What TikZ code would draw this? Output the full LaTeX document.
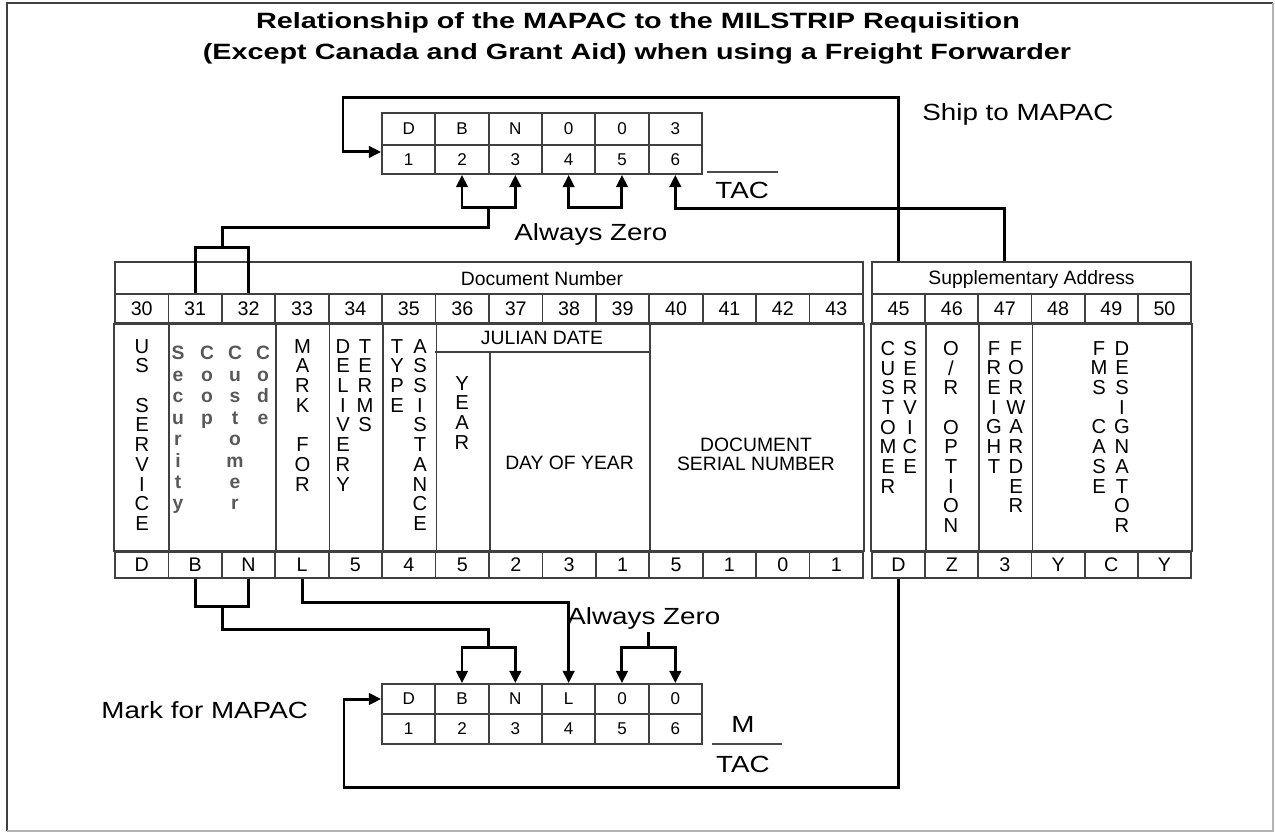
\documentclass[tikz,border=0pt]{standalone}
\usepackage{fontspec}
\setmainfont{Liberation Sans}
\newfontfamily\titlefont[FakeStretch=1.3]{Liberation Sans Bold}
\newfontfamily\labelfont[FakeStretch=1.19]{Liberation Sans}
\usetikzlibrary{arrows.meta}
\definecolor{gridgray}{gray}{0.25}

\begin{document}
\begin{tikzpicture}[x=0.02cm,y=-0.02cm,>={Triangle[length=7pt,width=6.5pt]},
  grid/.style={draw=gridgray,line width=1pt},
  cell/.style={grid,inner sep=0pt,minimum width=1.0686cm,font=\fontsize{11.2}{11}\selectfont},
  supcell/.style={cell,minimum width=1.0634cm},
  box/.style={grid,inner sep=0pt,minimum width=1.0666cm,minimum height=0.6cm,font=\fontsize{9.7}{10}\selectfont},
  vstack/.style={align=center,anchor=north,inner sep=0pt,font=\fontsize{11.5}{11.2}\selectfont},
  lstack/.style={vstack,font=\fontsize{11}{12.2}\bfseries\selectfont,text=black!65},
  plain/.style={inner sep=0pt,font=\fontsize{11}{10.8}\selectfont},
  link/.style={line width=1.7pt},
  bar/.style={line width=1.2pt,gray!60!black},
  caption/.style={inner sep=0pt,anchor=base west,font=\labelfont\fontsize{13.3}{14}\selectfont},
  heading/.style={inner sep=0pt,anchor=base,font=\titlefont\fontsize{12.6}{14}\selectfont}]
\useasboundingbox (0,0) rectangle (1275,833);
\draw[black!75,line width=1.2pt] (7,831) -- (7,3) -- (1273,3);
\draw[black!30,line width=0.8pt] (1273,3) -- (1273,831) -- (7,831);

\node[heading] (title1) at (638,28) {Relationship of the MAPAC to the MILSTRIP Requisition};
\node[heading] (title2) at (637,59) {(Except Canada and Grant Aid) when using a Freight Forwarder};

\foreach \ch [count=\i] in {D,B,N,0,0,3}{
  \node[box,minimum height=0.64cm] (sa\i) at ({382+53.33*(\i-0.5)},129) {\ch};
  \node[box,minimum height=0.58cm] (sb\i) at ({382+53.33*(\i-0.5)},159.5) {\i};
}
\foreach \ch [count=\i] in {D,B,N,L,0,0}{
  \node[box] (ma\i) at ({382+53.33*(\i-0.5)},699) {\ch};
  \node[box] (mb\i) at ({382+53.33*(\i-0.5)},729) {\i};
}

\node[cell,minimum width=14.96cm,minimum height=0.64cm] (docnum) at (489,278) {};
\node[plain] (docnumtext) at (542,279) {Document Number};
\foreach \k/\ch in {30/D,31/B,32/N,33/L,34/5,35/4,36/5,37/2,38/3,39/1,40/5,41/1,42/0,43/1}{
  \node[cell,minimum height=0.58cm] (num\k) at ({115+53.43*(\k-29.5)},308.5) {\k};
  \node[cell,minimum height=0.52cm] (let\k) at ({115+53.43*(\k-29.5)},565) {\ch};
}
\draw[grid] (num30.south west) rectangle (let43.north east);
\foreach \k in {30,32,33,34,35,39} \draw[grid] (num\k.south east) -- (let\k.north east);
\draw[grid] (num36.south west |- 0,352) -- (num39.south east |- 0,352);
\draw[grid] (num36.south east |- 0,352) -- (let36.north east);

\node[supcell,minimum width=6.38cm,minimum height=0.64cm] (suppaddr) at (1031.5,278) {};
\node[plain] (supptext) at (1031.5,279) {Supplementary Address};
\foreach \k/\ch in {45/D,46/Z,47/3,48/Y,49/C,50/Y}{
  \node[supcell,minimum height=0.58cm] (num\k) at ({872+53.17*(\k-44.5)},308.5) {\k};
  \node[supcell,minimum height=0.52cm] (let\k) at ({872+53.17*(\k-44.5)},565) {\ch};
}
\draw[grid] (num45.south west) rectangle (let50.north east);
\foreach \k in {45,46,47} \draw[grid] (num\k.south east) -- (let\k.north east);

\node[vstack] (usserv) at (142,339) {U\\S\\~\\S\\E\\R\\V\\I\\C\\E};
\node[lstack] (secur) at (178,346) {S\\e\\c\\u\\r\\i\\t\\y};
\node[lstack] (coop) at (207,346) {C\\o\\o\\p};
\node[lstack] (custcode) at (235,346) {C\\u\\s\\t\\o\\m\\e\\r};
\node[lstack] (code) at (263,346) {C\\o\\d\\e};
\node[vstack] (markcol) at (302.5,339) {M\\A\\R\\K\\~\\F\\O\\R};
\node[vstack] (deliv) at (343,339) {D\\E\\L\\I\\V\\E\\R\\Y};
\node[vstack] (terms) at (365,339) {T\\E\\R\\M\\S};
\node[vstack] (type) at (397,339) {T\\Y\\P\\E};
\node[vstack] (assist) at (420,339) {A\\S\\S\\I\\S\\T\\A\\N\\C\\E};
\node[vstack] (year) at (462,376) {Y\\E\\A\\R};
\node[plain] (julian) at (542,338) {JULIAN DATE};
\node[plain] (dayofyear) at (569.5,463) {DAY OF YEAR};
\node[plain,align=center] (docserial) at (756,454) {DOCUMENT\\SERIAL NUMBER};

\node[vstack] (custm) at (888,341) {C\\U\\S\\T\\O\\M\\E\\R};
\node[vstack] (servc) at (910,341) {S\\E\\R\\V\\I\\C\\E};
\node[vstack] (oropt) at (951,341) {O\\/\\R\\~\\O\\P\\T\\I\\O\\N};
\node[vstack] (freight) at (994,341) {F\\R\\E\\I\\G\\H\\T};
\node[vstack] (forward) at (1016,341) {F\\O\\R\\W\\A\\R\\D\\E\\R};
\node[vstack] (fmscase) at (1099,341) {F\\M\\S\\~\\C\\A\\S\\E};
\node[vstack] (desig) at (1122,341) {D\\E\\S\\I\\G\\N\\A\\T\\O\\R};

\coordinate (shiploop) at (343,97);
\coordinate (tacrail) at (0,208);
\coordinate (zerorail) at (0,207);
\coordinate (bnknee) at (222.7,247);
\coordinate (bnrun) at (488.7,227);
\coordinate (lowknee) at (222.7,606);
\coordinate (lowrun) at (488.7,629);
\coordinate (lowrail) at (0,647);
\coordinate (lrun) at (0,602);
\coordinate (zerostem) at (648.7,632);
\coordinate (markloop) at (344,787);

\draw[link,->] (num45 |- suppaddr.north) |- (shiploop) |- ([yshift=4.3pt]sb1.west);
\draw[link,->] (num47 |- suppaddr.north) -- (num47 |- tacrail) -| (sb6.south);
\draw[link,<->] (sb2.south) -- (sb2 |- zerorail) -- (sb3 |- zerorail) -- (sb3.south);
\draw[link,<->] (sb4.south) -- (sb4 |- zerorail) -- (sb5 |- zerorail) -- (sb5.south);
\draw[link] (num31.north) -- (num31 |- bnknee) -- (num32 |- bnknee) -- (num32.north);
\draw[link] (bnknee) |- (bnrun) -- (bnrun |- zerorail);

\draw[link] (let31.south) -- (let31 |- lowknee) -- (let32 |- lowknee) -- (let32.south);
\draw[link] (lowknee) |- (lowrun) -- (lowrun |- lowrail);
\draw[link,<->] (ma2.north) -- (ma2 |- lowrail) -- (ma3 |- lowrail) -- (ma3.north);
\draw[link,->] (let33.south) |- (lrun -| ma4) -- (ma4.north);
\draw[link,<->] (ma5.north) -- (ma5 |- lowrail) -- (ma6 |- lowrail) -- (ma6.north);
\draw[link] (zerostem) -- (zerostem |- lowrail);
\draw[link,->] (let45.south) |- (markloop) |- (ma1.west);

\node[caption] (shipto) at (922,120) {Ship to MAPAC};
\node[caption] (zerotop) at (514,240) {Always Zero};
\node[caption] (zerolow) at (567,624) {Always Zero};
\node[caption] (marklbl) at (101,718) {Mark for MAPAC};
\node[caption] (tactop) at (715,198) {TAC};
\node[caption,anchor=base] (mcode) at (743,732) {M};
\node[caption,anchor=base] (taclow) at (743,772) {TAC};
\draw[bar] (707,172) -- (778,172);
\draw[bar] (712,744) -- (782,744);
\end{tikzpicture}
\end{document}
